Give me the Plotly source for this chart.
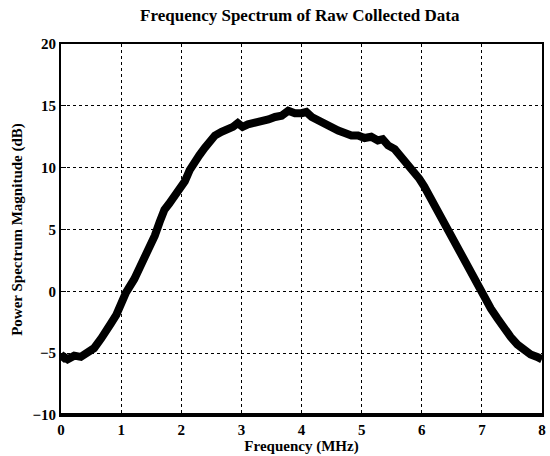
import plotly.graph_objects as go

freq_mhz = [0.0, 0.05, 0.11, 0.22, 0.33, 0.44, 0.55, 0.67, 0.75, 0.83, 0.92, 1.0, 1.08, 1.22, 1.30, 1.39, 1.47,
            1.56, 1.64, 1.72, 1.80, 1.89, 1.97, 2.06, 2.14, 2.22, 2.30, 2.39, 2.47, 2.56, 2.67, 2.78, 2.86,
            2.94, 3.02, 3.11, 3.22, 3.33, 3.45, 3.56, 3.67, 3.78, 3.89, 4.0, 4.08, 4.17, 4.28, 4.39, 4.50,
            4.61, 4.72, 4.83, 4.94, 5.05, 5.16, 5.27, 5.35, 5.44, 5.55, 5.66, 5.77, 5.88, 5.96, 6.04, 6.15,
            6.26, 6.37, 6.48, 6.59, 6.70, 6.81, 6.93, 7.04, 7.15, 7.26, 7.37, 7.48, 7.59, 7.70, 7.81, 7.92, 8.0]
power_db = [-5.6, -5.3, -5.5, -5.2, -5.3, -5.0, -4.6, -3.8, -3.3, -2.6, -1.9, -1.0, -0.1, 1.0, 1.8, 2.8, 3.6,
            4.5, 5.6, 6.6, 7.1, 7.7, 8.2, 8.9, 9.8, 10.5, 11.0, 11.6, 12.2, 12.6, 12.9, 13.1, 13.3,
            13.6, 13.3, 13.5, 13.6, 13.8, 13.9, 14.1, 14.2, 14.6, 14.4, 14.4, 14.5, 14.1, 13.8, 13.5, 13.2,
            13.0, 12.8, 12.6, 12.6, 12.4, 12.5, 12.2, 12.3, 11.8, 11.5, 10.9, 10.3, 9.7, 9.1, 8.5, 7.5,
            6.4, 5.5, 4.5, 3.5, 2.4, 1.5, 0.5, -0.5, -1.4, -2.2, -3.0, -3.7, -4.3, -4.8, -5.1, -5.3, -5.5]

x_ticks = [0, 1, 2, 3, 4, 5, 6, 7, 8]
y_ticks = [-10, -5, 0, 5, 10, 15, 20]

serif = "Liberation Serif"

fig = go.Figure()
fig.add_trace(go.Scatter(x=freq_mhz, y=power_db, mode="lines",
                         line=dict(color="black", width=8, shape="linear"),
                         showlegend=False))

axis_common = dict(showline=True, linecolor="black", linewidth=2, mirror=True,
                   showgrid=True, gridcolor="black", gridwidth=1, griddash="dot",
                   ticks="inside", ticklen=5, tickcolor="black", zeroline=False,
                   tickfont=dict(family=serif, size=15, color="black", weight="bold"))

fig.update_layout(
    width=550, height=456,
    margin=dict(l=61, r=4, t=44, b=41),
    paper_bgcolor="white", plot_bgcolor="white",
    title=dict(text="Frequency Spectrum of Raw Collected Data",
               font=dict(family=serif, size=17, color="black", weight="bold"),
               x=0.545, xanchor="center", y=0.968, yanchor="middle"),
    xaxis=dict(range=[0, 8], tickvals=x_ticks,
               title=dict(text="Frequency (MHz)", standoff=0,
                          font=dict(family=serif, size=15, color="black", weight="bold")),
               **axis_common),
    yaxis=dict(range=[-10, 20], tickvals=y_ticks,
               title=dict(text="Power Spectrum Magnitude (dB)", standoff=6,
                          font=dict(family=serif, size=15, color="black", weight="bold")),
               **axis_common),
    shapes=[dict(type="line", xref="x domain", yref="y domain", x0=0, x1=1, y0=0, y1=0,
                 line=dict(color="black", width=4))],
)

fig.write_html("out.html", config={"displayModeBar": False},
               post_script="document.body.style.margin='0';document.body.style.overflow='hidden';")
